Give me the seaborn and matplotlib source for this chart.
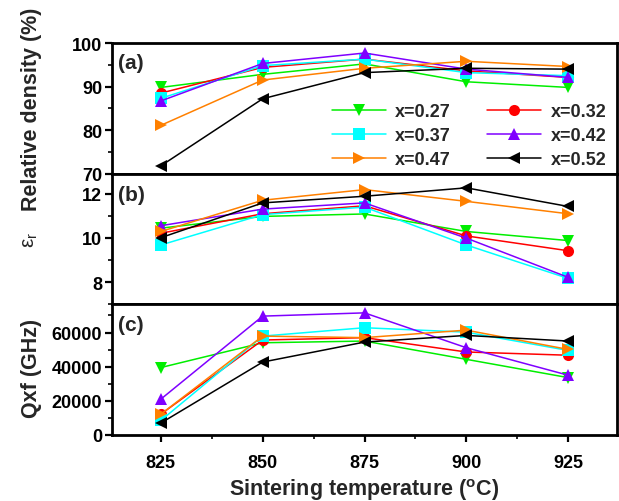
import numpy as np
import pandas as pd
import matplotlib
matplotlib.use("Agg")
import matplotlib.pyplot as plt
from matplotlib.ticker import MultipleLocator
from matplotlib.lines import Line2D
import seaborn as sns

temps = [825, 850, 875, 900, 925]
series = ["x=0.27", "x=0.32", "x=0.37", "x=0.42", "x=0.47", "x=0.52"]

density_027 = [89.8, 92.8, 95.2, 91.1, 89.8]
density_032 = [88.5, 94.4, 96.3, 93.6, 92.1]
density_037 = [87.3, 94.8, 96.3, 93.2, 92.5]
density_042 = [86.7, 95.3, 97.7, 94.0, 92.1]
density_047 = [81.1, 91.5, 94.2, 95.8, 94.6]
density_052 = [71.8, 87.2, 93.2, 94.2, 94.0]

eps_027 = [10.44, 10.97, 11.08, 10.29, 9.88]
eps_032 = [10.21, 11.09, 11.45, 10.09, 9.42]
eps_037 = [9.68, 11.05, 11.39, 9.68, 8.17]
eps_042 = [10.55, 11.30, 11.58, 9.99, 8.22]
eps_047 = [10.29, 11.70, 12.18, 11.65, 11.09]
eps_052 = [10.01, 11.58, 11.88, 12.26, 11.42]

qf_027 = [39500, 54000, 55000, 44300, 33600]
qf_032 = [12200, 55600, 57000, 48600, 46700]
qf_037 = [8500, 57900, 62800, 60200, 49500]
qf_042 = [21000, 69600, 71500, 51100, 35000]
qf_047 = [12200, 57900, 57000, 61400, 50100]
qf_052 = [7000, 42700, 54400, 58300, 55000]

density = [density_027, density_032, density_037, density_042, density_047, density_052]
eps = [eps_027, eps_032, eps_037, eps_042, eps_047, eps_052]
qf = [qf_027, qf_032, qf_037, qf_042, qf_047, qf_052]

colors = ["#00ee00", "#ff0000", "#00ffff", "#7f00ff", "#ff8000", "#000000"]
markers = ["v", "o", "s", "^", ">", "<"]

def long_df(values):
    rows = []
    for s, vals in zip(series, values):
        for t, v in zip(temps, vals):
            rows.append({"T": t, "v": v, "x": s})
    return pd.DataFrame(rows)

sns.set_theme(style="white")
plt.rcParams["font.family"] = ["Liberation Sans", "DejaVu Sans"]
plt.rcParams["font.weight"] = "bold"
plt.rcParams["mathtext.fontset"] = "custom"
plt.rcParams["mathtext.rm"] = "Liberation Sans"
plt.rcParams["mathtext.it"] = "Liberation Sans:italic"

fig, axes = plt.subplots(3, 1, figsize=(6.19, 5.02), dpi=100, sharex=True)
fig.subplots_adjust(left=112/619, right=617/619, top=1-44/502, bottom=1-436/502, hspace=0)

pal = dict(zip(series, colors))
mk = dict(zip(series, markers))

datasets = [density, eps, qf]
for ax, vals in zip(axes, datasets):
    df = long_df(vals)
    sns.lineplot(data=df, x="T", y="v", hue="x", style="x", palette=pal,
                 markers=mk, dashes=False, markersize=8, markeredgewidth=0,
                 linewidth=1.1, ax=ax, legend=False, sort=False)
    for sp in ax.spines.values():
        sp.set_linewidth(2)
        sp.set_color("black")
    ax.set_xlim(813, 937)
    ax.tick_params(axis="y", which="major", direction="out", length=5, width=1.6,
                   labelsize=13, left=True, right=False, pad=2, colors="black")
    ax.tick_params(axis="y", which="minor", direction="out", length=3, width=1.4, left=True)
    ax.set_xlabel("")
    ax.set_ylabel("")
    for lab in ax.get_yticklabels():
        lab.set_fontweight("bold")

ax1, ax2, ax3 = axes
ax1.set_ylim(70, 100)
ax1.yaxis.set_major_locator(MultipleLocator(10))
ax1.yaxis.set_minor_locator(MultipleLocator(5))
ax2.set_ylim(7, 12.9)
ax2.set_yticks([8, 10, 12])
ax2.yaxis.set_minor_locator(MultipleLocator(1))
ax3.set_ylim(0, 76500)
ax3.yaxis.set_major_locator(MultipleLocator(20000))
ax3.yaxis.set_minor_locator(MultipleLocator(10000))

for ax in (ax1, ax2):
    ax.tick_params(axis="x", which="both", bottom=False, labelbottom=False)
ax3.set_xticks(temps)
ax3.xaxis.set_minor_locator(MultipleLocator(12.5))
ax3.tick_params(axis="x", which="major", direction="out", length=5, width=1.6,
                labelsize=13, bottom=True, pad=8.5, colors="black")
ax3.tick_params(axis="x", which="minor", direction="out", length=3, width=1.4, bottom=True)
for lab in ax3.get_xticklabels():
    lab.set_fontweight("bold")

ax3.set_xlabel("Sintering temperature ($\\mathregular{^o}$C)", fontsize=15.5, fontweight="bold", labelpad=4)

ax1.set_ylabel("Relative density (%)", fontsize=15.5, fontweight="bold")
ax1.yaxis.set_label_coords(-0.139, 0.5)
ax2.set_ylabel("$\\mathregular{\\varepsilon_r}$", fontsize=15, fontweight="normal")
ax2.yaxis.set_label_coords(-0.143, 0.5)
ax3.set_ylabel("Qxf (GHz)", fontsize=15.5, fontweight="bold")
ax3.yaxis.set_label_coords(-0.139, 0.52)

for ax, t, y in zip(axes, ["(a)", "(b)", "(c)"], [0.854, 0.838, 0.847]):
    ax.text(0.012, y, t, transform=ax.transAxes, fontsize=15, fontweight="bold",
            ha="left", va="center")

# legend fills column-wise; reorder so rows read 0.27/0.32, 0.37/0.42, 0.47/0.52
order = [0, 2, 4, 1, 3, 5]
handles = [Line2D([], [], color=colors[i], marker=markers[i], markersize=8,
                  markeredgewidth=0, linewidth=1.1) for i in order]
labels = [series[i] for i in order]
leg = ax1.legend(handles, labels, ncol=2, loc="upper left", bbox_to_anchor=(0.436, 0.537),
                 frameon=False, handlelength=3, handletextpad=0.5,
                 columnspacing=2.0, labelspacing=0.38, borderpad=0, borderaxespad=0,
                 prop={"weight": "bold", "size": 13})

fig.savefig("out.png", dpi=100)
